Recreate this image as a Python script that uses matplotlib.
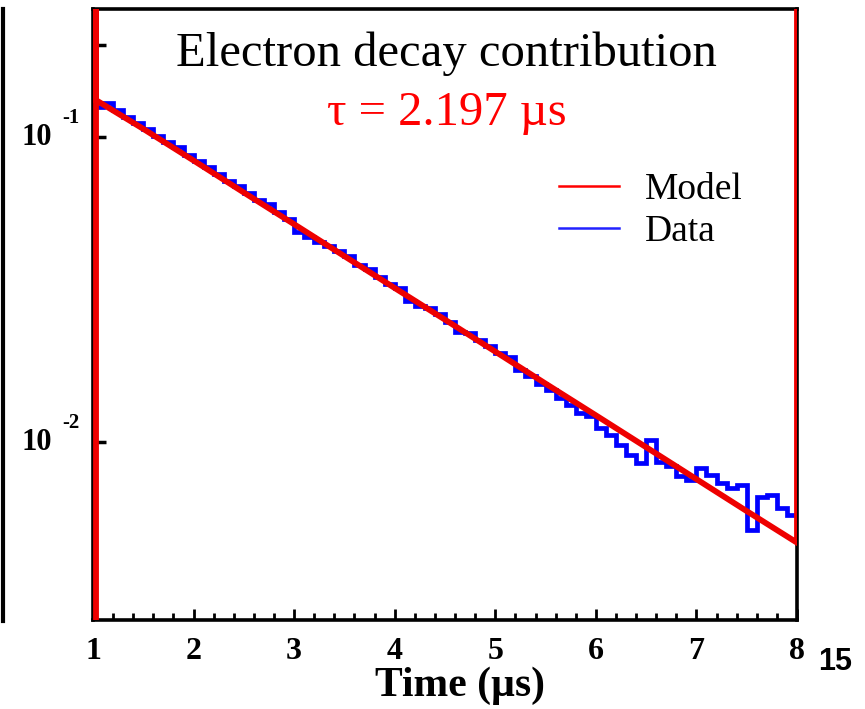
import numpy as np
import matplotlib
matplotlib.use("Agg")
import matplotlib.pyplot as plt
from matplotlib.lines import Line2D

# data histogram: 70 bins of 0.1 us between 1 and 8 us
bin_edges = np.linspace(1.0, 8.0, 71)
data_vals = [
    0.1254, 0.1289, 0.1229, 0.1162, 0.1116, 0.1063, 0.1006, 0.0966, 0.0927, 0.0871,
    0.0836, 0.0797, 0.0754, 0.0719, 0.0690, 0.0658, 0.0622, 0.0602, 0.0569, 0.0538,
    0.0490, 0.0471, 0.0452, 0.0441, 0.0423, 0.0406, 0.0382, 0.0369, 0.0349, 0.0330,
    0.0320, 0.0291, 0.0280, 0.0275, 0.0264, 0.0247, 0.0229, 0.0228, 0.0216, 0.0207,
    0.0196, 0.0190, 0.0172, 0.0165, 0.0155, 0.0148, 0.0139, 0.0132, 0.0125, 0.0122,
    0.01110, 0.01054, 0.00977, 0.00906, 0.00853, 0.01015, 0.00860, 0.00834, 0.00773, 0.00750,
    0.00822, 0.00779, 0.00734, 0.00707, 0.00723, 0.00514, 0.00660, 0.00670, 0.00607, 0.00576,
]

# model curve (incl. the vertical edges at both ends of the range)
model_t = [1.03, 1.03, 1.03, 1.5, 2.0, 2.5, 3.0, 3.5, 4.0, 4.5, 5.0, 5.5, 6.0, 6.5, 7.0, 7.5, 8.0, 8.0]
model_v = [1e-4, 1.0, 0.1322, 0.1064, 0.0838, 0.0658, 0.0518, 0.0407, 0.0320, 0.0252,
           0.0198, 0.01555, 0.01224, 0.00962, 0.00756, 0.00594, 0.00468, 1.0]

x_ticks = [1, 2, 3, 4, 5, 6, 7, 8]
y_ticks = [0.01, 0.1]
y_tick_exp = ["-2", "-1"]

title = "Electron decay contribution"
subtitle = "\u03c4 = 2.197 \u00b5s"

serif = "Liberation Serif"

fig = plt.figure(figsize=(8.65, 7.09), dpi=100)
ax = fig.add_axes([0.1075, 0.1255, 0.8139, 0.8618])

ax.stairs(data_vals, bin_edges, baseline=None, color="#0000ff", lw=3.4, zorder=2)
ax.plot(model_t, model_v, color="#ee0000", lw=4.2, zorder=3, solid_joinstyle="miter")

ax.set_yscale("log")
ax.set_xlim(1, 8)
ax.set_ylim(0.00261, 0.263)

for s in ["left", "bottom", "top", "right"]:
    ax.spines[s].set_linewidth(2.6)

ax.set_xticks(x_ticks)
ax.set_xticks(np.arange(1, 8.01, 0.2), minor=True)
ax.set_xticklabels([str(v) for v in x_ticks], fontfamily=serif, fontweight="bold", fontsize=23)
ax.tick_params(axis="x", which="major", direction="in", length=8, width=2, pad=12)
ax.tick_params(axis="x", which="minor", direction="in", length=5, width=2)

ax.set_yticks(y_ticks)
ax.set_yticks([0.2], minor=True)
ax.set_yticklabels([])
ax.yaxis.set_minor_formatter(plt.NullFormatter())
ax.tick_params(axis="y", which="both", direction="in", length=9, width=2.5)

ytr = ax.get_yaxis_transform()
for v, e in zip(y_ticks, y_tick_exp):
    ax.text(-0.058, v, "10", transform=ytr, ha="right", va="center",
            fontfamily=serif, fontweight="bold", fontsize=22)
    ax.annotate(e, xy=(-0.044, v), xycoords=ytr, xytext=(0, 14), textcoords="offset points",
                ha="left", va="center", fontfamily=serif, fontweight="bold", fontsize=15)

ax.set_xlabel("Time (\u00b5s)", fontfamily=serif, fontweight="bold", fontsize=30)
ax.xaxis.set_label_coords(0.522, -0.108)
ax.xaxis.label.set_va("center")

ax.text(0.502, 0.927, title, transform=ax.transAxes, ha="center", va="center",
        fontfamily=serif, fontsize=35)
ax.text(0.502, 0.83, subtitle, transform=ax.transAxes, ha="center", va="center",
        fontfamily=serif, fontsize=35, color="#ff0000")

handles = [Line2D([], [], color="#ff0000", lw=1.8, label="Model"),
           Line2D([], [], color="#2222ff", lw=1.8, label="Data")]
ax.legend(handles=handles, loc="upper left", bbox_to_anchor=(0.64, 0.757), frameon=False,
          prop={"family": serif, "size": 27}, handlelength=1.6, handletextpad=0.7,
          labelspacing=0.2, borderaxespad=0)

# edge of the neighbouring panel on the left
fig.add_artist(Line2D([0.004, 0.004], [1 - 621 / 709, 1 - 9 / 709], color="black", lw=3))

fig.text(835 / 865, 1 - 662 / 709, "15", ha="center", va="center",
         fontfamily="Liberation Sans", fontweight="bold", fontsize=22)

fig.savefig("out.png", dpi=100)
